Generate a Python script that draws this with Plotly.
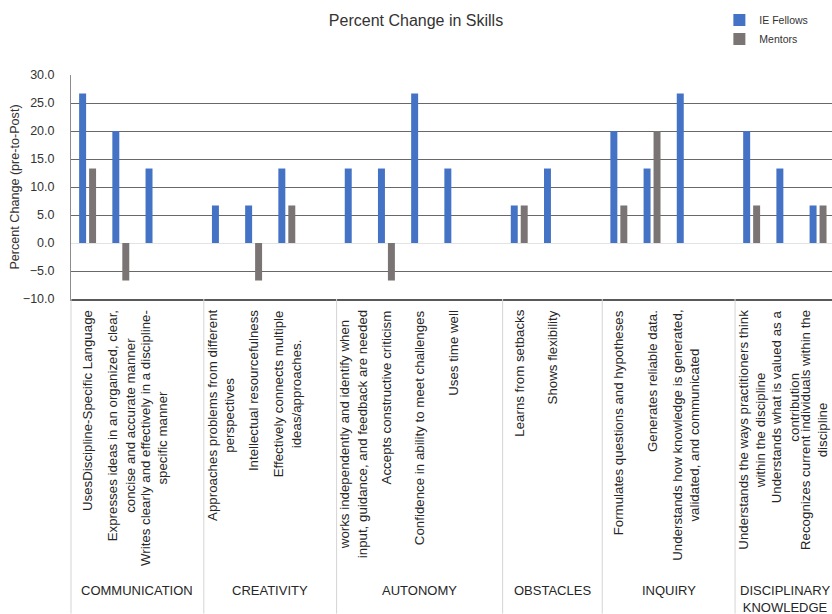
import plotly.graph_objects as go

# Skill groups and the skills rated in each
groups = ["COMMUNICATION", "CREATIVITY", "AUTONOMY", "OBSTACLES", "INQUIRY",
          "DISCIPLINARY<br>KNOWLEDGE"]
skills = [
    ["UsesDiscipline-Specific Language",
     "Expresses ideas in an organized, clear,<br>concise and accurate manner",
     "Writes clearly and effectively in a discipline-<br>specific manner"],
    ["Approaches problems from different<br>perspectives",
     "Intellectual resourcefulness",
     "Effectively connects multiple<br>ideas/approaches."],
    ["works independently and identify when<br>input, guidance, and feedback are needed",
     "Accepts constructive criticism",
     "Confidence in ability to meet challenges",
     "Uses time well"],
    ["Learns from setbacks",
     "Shows flexibility"],
    ["Formulates questions and hypotheses",
     "Generates reliable data.",
     "Understands how knowledge is generated,<br>validated, and communicated"],
    ["Understands the ways practitioners think<br>within the discipline",
     "Understands what is valued as a<br>contribution",
     "Recognizes current individuals within the<br>discipline"],
]

# Percent change (pre-to-post), one list per group
ie_fellows = [
    [26.7, 20.0, 13.3],
    [6.7, 6.7, 13.3],
    [13.3, 13.3, 26.7, 13.3],
    [6.7, 13.3],
    [20.0, 13.3, 26.7],
    [20.0, 13.3, 6.7],
]
mentors = [
    [13.3, -6.7, 0.0],
    [0.0, -6.7, 6.7],
    [0.0, -6.7, 0.0, 0.0],
    [6.7, 0.0],
    [6.7, 20.0, 0.0],
    [6.7, 0.0, 6.7],
]

y_ticks = [-10, -5, 0, 5, 10, 15, 20, 25, 30]

BLUE = "#4472c4"
GREY = "#7a7574"
FONT = "Liberation Sans, Arial, sans-serif"

# Lay the skills out on a slot axis, leaving one empty slot after each group
xs, labels, ie_vals, m_vals = [], [], [], []
group_spans = []
slot = 0
for gi, (names, ie, mt) in enumerate(zip(skills, ie_fellows, mentors)):
    start = slot
    for name, a, b in zip(names, ie, mt):
        xs.append(slot)
        labels.append(name)
        ie_vals.append(a)
        m_vals.append(b)
        slot += 1
    if gi < len(skills) - 1:
        slot += 1
    group_spans.append((start - 0.5, slot - 0.5))

fig = go.Figure()
fig.add_trace(go.Bar(name="IE Fellows", x=xs, y=ie_vals, marker_color=BLUE,
                     marker_line_width=0))
fig.add_trace(go.Bar(name="Mentors", x=xs, y=m_vals, marker_color=GREY,
                     marker_line_width=0))

annotations = []
# Rotated skill labels under the plot; the last one is nudged in from the edge
for i, (x, name) in enumerate(zip(xs, labels)):
    annotations.append(dict(
        x=x, y=-10, xref="x", yref="y", yshift=-9,
        xshift=-4 if i == len(xs) - 1 else 0,
        text=name, textangle=-90, showarrow=False,
        xanchor="center", yanchor="top", align="center",
        font=dict(family=FONT, size=13.3, color="#262626"),
    ))

plot_h = 224.3
shapes = []
for gi, (g, (x0, x1)) in enumerate(zip(groups, group_spans)):
    annotations.append(dict(
        x=(x0 + x1) / 2, y=-(581 - 299) / plot_h, xref="x", yref="paper",
        text=g, showarrow=False, xanchor="center", yanchor="top",
        align="center", font=dict(family=FONT, size=13, color="#262626"),
    ))
    # divider between groups in the label area
    if gi == 0:
        shapes.append(dict(type="line", xref="paper", yref="paper",
                           x0=0, x1=0, y0=0, y1=-(614 - 299) / plot_h,
                           line=dict(color="#d4d4d4", width=1)))
    else:
        shapes.append(dict(type="line", xref="x", yref="paper",
                           x0=x0, x1=x0, y0=0, y1=-(614 - 299) / plot_h,
                           line=dict(color="#d4d4d4", width=1)))

fig.update_layout(
    width=832, height=614,
    margin=dict(l=71, r=0, t=75, b=315, autoexpand=False),
    paper_bgcolor="white", plot_bgcolor="white",
    barmode="group", bargap=0.4, bargroupgap=0.3,
    title=dict(text="Percent Change in Skills", x=0.5, xref="container",
               xanchor="center", y=0.967, yanchor="middle",
               font=dict(family=FONT, size=16, color="#333333")),
    font=dict(family=FONT, color="#333333"),
    legend=dict(orientation="v", x=0.852, y=1.31, xanchor="left",
                yanchor="top", font=dict(family=FONT, size=10.5, color="#333333"),
                itemwidth=30, bgcolor="rgba(0,0,0,0)"),
    annotations=annotations,
    shapes=shapes,
)
fig.update_xaxes(range=[-0.5, 22.42], showticklabels=False, showgrid=False,
                 zeroline=False, showline=True, linecolor="#595959",
                 linewidth=2, ticks="")
fig.update_yaxes(range=[-10, 30], tickvals=y_ticks, tickformat=".1f",
                 showgrid=True, gridcolor="#686868", gridwidth=1,
                 zeroline=True, zerolinecolor="#e3e3e3", zerolinewidth=1,
                 showline=True, linecolor="#8c8c8c", linewidth=1,
                 ticks="", ticklabelstandoff=13,
                 tickfont=dict(family=FONT, size=12.5, color="#333333"),
                 title=dict(text="Percent Change (pre-to-Post)", standoff=0,
                            font=dict(family=FONT, size=12.6, color="#333333")),
                 automargin=False)

fig.write_html("out.html")
